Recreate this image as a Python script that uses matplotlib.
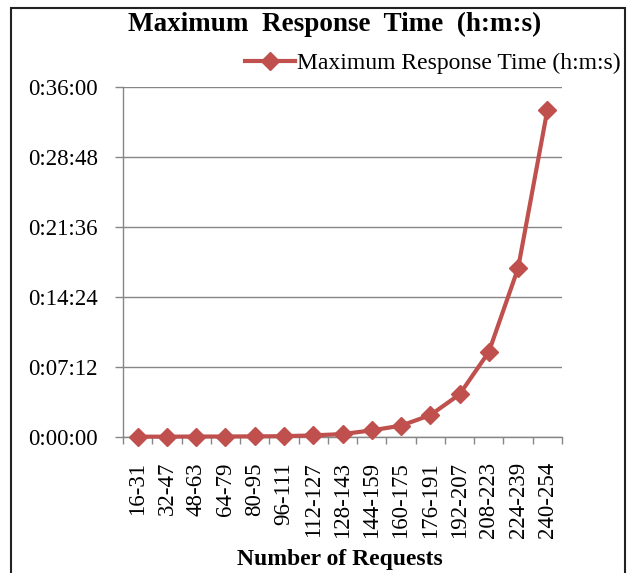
import matplotlib
matplotlib.use("Agg")
import matplotlib.pyplot as plt
from matplotlib.ticker import FuncFormatter, FixedLocator
from matplotlib.patches import Rectangle

categories = ["16-31", "32-47", "48-63", "64-79", "80-95", "96-111", "112-127",
              "128-143", "144-159", "160-175", "176-191", "192-207", "208-223",
              "224-239", "240-254"]
# maximum response time in seconds
max_response_s = [2, 2, 3, 3, 4, 5, 10, 18, 41, 70, 135, 263, 525, 1042, 2018]
y_ticks_s = [0, 432, 864, 1296, 1728, 2160]

title = "Maximum  Response  Time  (h:m:s)"
series_name = "Maximum Response Time (h:m:s)"
x_label = "Number of Requests"

plt.rcParams['font.family'] = ['Liberation Serif', 'DejaVu Serif']

W, H = 629, 573
fig = plt.figure(figsize=(W / 100, H / 100), dpi=100)
fig.patch.set_facecolor('white')

# outer chart border
fig.patches.append(Rectangle((11 / W, -0.01), (625 - 11) / W, 1.01 - 8 / H,
                             transform=fig.transFigure, fill=False,
                             edgecolor='#222222', linewidth=1.5))

left, right, top, bottom = 123, 562, 87, 437
ax = fig.add_axes([left / W, 1 - bottom / H, (right - left) / W, (bottom - top) / H])

gray = '#868686'
red = '#C0504D'
x = list(range(len(categories)))
line, = ax.plot(x, max_response_s, color=red, linewidth=3.0, marker='D',
                markersize=9.5, markerfacecolor=red, markeredgecolor=red,
                label=series_name, clip_on=False, zorder=3)

ax.set_xlim(-0.5, len(categories) - 0.5)
ax.set_ylim(0, 2160)
ax.yaxis.set_major_locator(FixedLocator(y_ticks_s))

def hms(v, pos=None):
    v = int(round(v))
    return f"{v // 3600}:{(v % 3600) // 60:02d}:{v % 60:02d}"

ax.yaxis.set_major_formatter(FuncFormatter(hms))
ax.yaxis.grid(True, color=gray, linewidth=1.0)
ax.set_axisbelow(True)

for s in ['top', 'right']:
    ax.spines[s].set_visible(False)
for s in ['left', 'bottom']:
    ax.spines[s].set_color(gray)
    ax.spines[s].set_linewidth(1.0)

ax.set_xticks(x)
ax.set_xticklabels(categories, rotation=90, va='top', ha='center')
ax.set_xticks([i - 0.5 for i in range(len(categories) + 1)], minor=True)
ax.tick_params(axis='x', which='major', length=0, pad=18, labelsize=16.5)
ax.tick_params(axis='x', which='minor', length=5, color=gray, width=1.0, direction='out')
ax.tick_params(axis='y', which='major', length=6, color=gray, width=1.0, pad=12,
               labelsize=16.5)

fig.text(335 / W, 1 - 24 / H, title, ha='center', va='center',
         fontsize=19.5, fontweight='bold')

ax.set_xlabel(x_label, fontsize=17, fontweight='bold')
ax.xaxis.set_label_coords((340 - left) / (right - left), -(560 - bottom) / (bottom - top))
ax.xaxis.label.set_va('center')

leg = fig.legend(handles=[line], loc='center right',
                 bbox_to_anchor=(621 / W, 1 - 63 / H), frameon=False,
                 fontsize=17, handlelength=2.1, handletextpad=0.1,
                 borderpad=0, borderaxespad=0)

fig.savefig("out.png", dpi=100)
